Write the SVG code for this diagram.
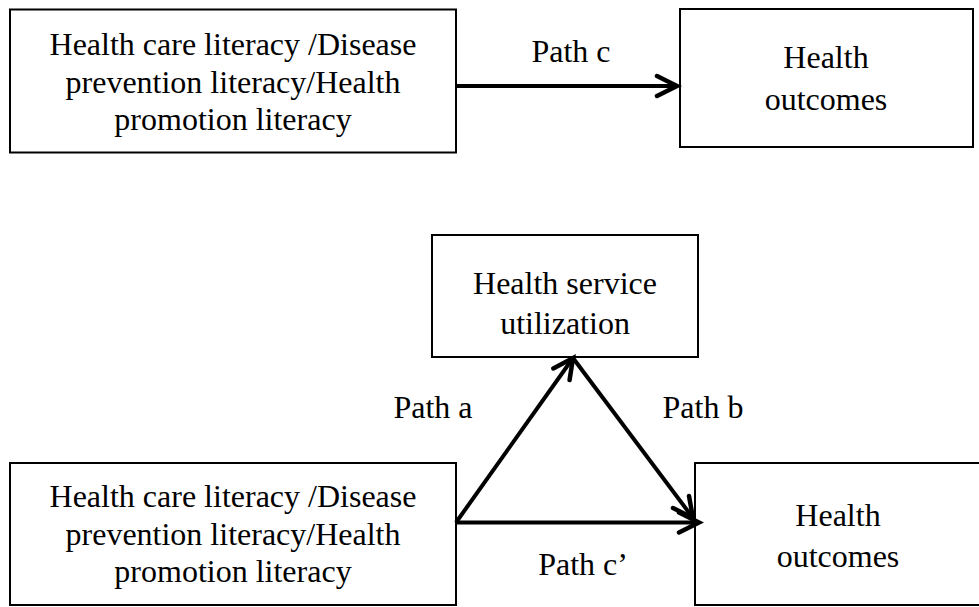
<svg xmlns="http://www.w3.org/2000/svg" width="979" height="607" viewBox="0 0 979 607">
<defs>
<style>
.box{fill:#fff;stroke:#000;stroke-width:2}
.t{font-family:"Liberation Serif","Times New Roman",serif;font-size:32px;fill:#000;text-anchor:middle}
.c{stroke:#000;stroke-width:4;fill:none;marker-end:url(#ah)}
</style>
<marker id="ah" markerUnits="userSpaceOnUse" orient="auto" markerWidth="30" markerHeight="30" viewBox="-25 -15 30 30" refX="0" refY="0">
<path d="M-20,-10 L0,0 L-20,10" fill="none" stroke="#000" stroke-width="4.5" stroke-linejoin="miter" stroke-linecap="round"/>
</marker>
</defs>
<rect width="979" height="607" fill="#fff"/>
<g id="top-predictor">
<rect class="box" x="10" y="9.5" width="446" height="143"/>
<text class="t" x="233" y="55">Health care literacy /Disease</text>
<text class="t" x="233" y="92.5">prevention literacy/Health</text>
<text class="t" x="233" y="130">promotion literacy</text>
</g>
<g id="top-outcome">
<rect class="box" x="680" y="9" width="293" height="138"/>
<text class="t" x="826" y="68">Health</text>
<text class="t" x="826" y="110">outcomes</text>
</g>
<g id="mediator">
<rect class="box" x="432" y="235" width="266" height="122"/>
<text class="t" x="565" y="294">Health service</text>
<text class="t" x="565" y="334">utilization</text>
</g>
<g id="bottom-predictor">
<rect class="box" x="10" y="463" width="446" height="142"/>
<text class="t" x="233" y="507">Health care literacy /Disease</text>
<text class="t" x="233" y="544.5">prevention literacy/Health</text>
<text class="t" x="233" y="582">promotion literacy</text>
</g>
<g id="bottom-outcome">
<rect class="box" x="695" y="463" width="286" height="142"/>
<text class="t" x="838" y="526">Health</text>
<text class="t" x="838" y="567">outcomes</text>
</g>
<g id="connectors">
<line class="c" x1="456" y1="86" x2="677" y2="86"/>
<line class="c" x1="456" y1="522.5" x2="699" y2="522.5"/>
<line class="c" x1="456" y1="522.5" x2="573" y2="358"/>
<line class="c" x1="573" y1="358" x2="693" y2="518"/>
<text class="t" x="571" y="62">Path c</text>
<text class="t" x="433" y="418">Path a</text>
<text class="t" x="703" y="418">Path b</text>
<text class="t" x="583" y="575">Path c’</text>
</g>
</svg>
